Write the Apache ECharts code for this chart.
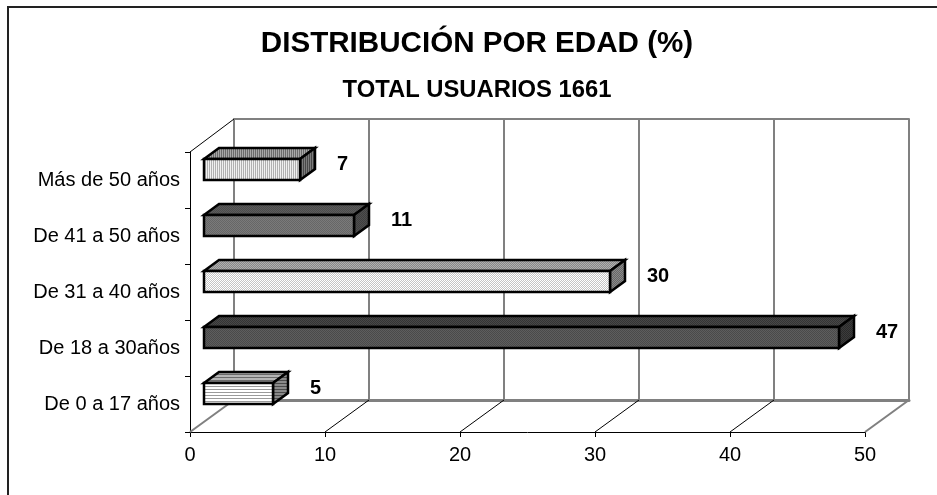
<!DOCTYPE html>
<html>
<head>
<meta charset="utf-8">
<script src="https://cdn.jsdelivr.net/npm/echarts@6/dist/echarts.min.js"></script>
<style>
  html, body { margin: 0; padding: 0; background: #fff; }
  #chart { width: 937px; height: 495px; }
</style>
</head>
<body>
<div id="chart"></div>
<script>
const categories = ['De 0 a 17 años', 'De 18 a 30años', 'De 31 a 40 años', 'De 41 a 50 años', 'Más de 50 años'];
// bars are a hair longer than the rounded labels say
const barValues = [5.1, 47, 30.1, 11.1, 7.1];
const labelValues = [5, 47, 30, 11, 7];
const xTicks = [0, 10, 20, 30, 40, 50];

// depth of the plot box and of each bar, in px
const boxDx = 44, boxDy = 32;
const barDx = 15, barDy = 11;
const barInset = 14, barHeight = 21;

const fontFamily = '"Liberation Sans", Arial, sans-serif';
const gray = '#808080';

// small repeating tile, rows of grey values
function tile(rows) {
  const c = document.createElement('canvas');
  c.height = rows.length;
  c.width = rows[0].length;
  const ctx = c.getContext('2d');
  rows.forEach((row, y) => row.forEach((v, x) => {
    ctx.fillStyle = v;
    ctx.fillRect(x, y, 1, 1);
  }));
  return { image: c, repeat: 'repeat' };
}
const vStripes = (a, b) => tile([[a, b]]);
const hStripes = (a, b) => tile([[a], [a], [b]]);
const dither = (a, b) => tile([[a, b], [b, a]]);

// front, top, side for each category
const barFills = [
  [hStripes('#ffffff', '#9a9a9a'), hStripes('#b5b5b5', '#6a6a6a'), hStripes('#8a8a8a', '#4a4a4a')],
  [dither('#4a4a4a', '#5e5e5e'), dither('#343434', '#484848'), dither('#2a2a2a', '#3c3c3c')],
  [dither('#ffffff', '#c4c4c4'), dither('#b0b0b0', '#888888'), dither('#8a8a8a', '#666666')],
  [dither('#666666', '#7a7a7a'), dither('#4c4c4c', '#5c5c5c'), dither('#3e3e3e', '#4e4e4e')],
  [vStripes('#f0f0f0', '#b0b0b0'), vStripes('#a8a8a8', '#6c6c6c'), vStripes('#7c7c7c', '#484848')]
];

function renderFloor(params, api) {
  const v = api.value(0);
  const x = api.coord([v, 0])[0];
  const y = params.coordSys.y + params.coordSys.height;
  const edge = v === 0 || v === 50;
  return {
    type: 'line',
    shape: { x1: x, y1: y, x2: x + boxDx, y2: y - boxDy },
    style: { stroke: edge ? gray : '#000', lineWidth: edge ? 2 : 1 },
    silent: true
  };
}

function renderCorner(params, api) {
  const x = params.coordSys.x;
  const y = params.coordSys.y;
  return {
    type: 'line',
    shape: { x1: x, y1: y, x2: x + boxDx, y2: y - boxDy - 1 },
    style: { stroke: '#000', lineWidth: 1 },
    silent: true
  };
}

function renderBar(params, api) {
  const i = params.dataIndex;
  const start = api.coord([0, i]);
  const end = api.coord([api.value(0), i]);
  const x0 = Math.round(start[0]) + barInset;
  const x1 = Math.round(end[0]) + barInset;
  const y1 = Math.round(start[1]);
  const y0 = y1 - barHeight;
  const line = { stroke: '#000', lineWidth: 2.5, lineJoin: 'miter' };
  const f = barFills[i];
  return {
    type: 'group',
    children: [
      {
        type: 'polygon',
        shape: { points: [[x0, y0], [x0 + barDx, y0 - barDy], [x1 + barDx, y0 - barDy], [x1, y0]] },
        style: Object.assign({ fill: f[1] }, line)
      },
      {
        type: 'polygon',
        shape: { points: [[x1, y0], [x1 + barDx, y0 - barDy], [x1 + barDx, y1 - barDy], [x1, y1]] },
        style: Object.assign({ fill: f[2] }, line)
      },
      {
        type: 'rect',
        shape: { x: x0, y: y0, width: x1 - x0, height: barHeight },
        style: Object.assign({ fill: f[0] }, line)
      },
      {
        type: 'text',
        x: x1 + 37,
        y: y0 + 5,
        style: {
          text: String(labelValues[i]),
          font: 'bold 20px ' + fontFamily,
          fill: '#000',
          verticalAlign: 'middle'
        }
      }
    ]
  };
}

const option = {
  animation: false,
  backgroundColor: '#fff',
  title: [
    {
      text: 'DISTRIBUCIÓN POR EDAD (%)',
      left: 472, top: 24, textAlign: 'center',
      textStyle: { fontFamily: fontFamily, fontWeight: 'bold', fontSize: 29.6, color: '#000' }
    },
    {
      text: 'TOTAL USUARIOS 1661',
      left: 472, top: 73, textAlign: 'center',
      textStyle: { fontFamily: fontFamily, fontWeight: 'bold', fontSize: 23.8, color: '#000' }
    }
  ],
  graphic: [
    { type: 'line', silent: true, shape: { x1: 8, y1: 7, x2: 8, y2: 495 }, style: { stroke: '#222', lineWidth: 2 } },
    { type: 'line', silent: true, shape: { x1: 7, y1: 7, x2: 937, y2: 7 }, style: { stroke: '#222', lineWidth: 2 } }
  ],
  grid: [
    { left: 190, top: 152, width: 675, height: 280, show: false },
    { left: 234, top: 119, width: 675, height: 281, show: false }
  ],
  xAxis: [
    {
      gridIndex: 0, type: 'value', min: 0, max: 50, interval: 10,
      axisLine: { show: true, onZero: false, lineStyle: { color: '#000', width: 1 } },
      axisTick: { show: true, length: 5, lineStyle: { color: '#000' } },
      splitLine: { show: false },
      axisLabel: { color: '#000', fontSize: 20, margin: 13, fontFamily: fontFamily }
    },
    {
      gridIndex: 1, type: 'value', min: 0, max: 50, interval: 10, position: 'top',
      axisLine: { show: true, onZero: false, lineStyle: { color: gray, width: 2 } },
      axisTick: { show: false },
      axisLabel: { show: false },
      splitLine: { show: true, lineStyle: { color: gray, width: 2 } }
    },
    {
      gridIndex: 1, type: 'value', min: 0, max: 50, interval: 10, position: 'bottom',
      axisLine: { show: true, onZero: false, lineStyle: { color: gray, width: 3 } },
      axisTick: { show: false },
      axisLabel: { show: false },
      splitLine: { show: false }
    }
  ],
  yAxis: [
    {
      gridIndex: 0, type: 'category', data: categories,
      axisLine: { show: true, lineStyle: { color: '#000', width: 1 } },
      axisTick: { show: true, length: 5, alignWithLabel: false, lineStyle: { color: '#000' } },
      axisLabel: { color: '#000', fontSize: 20, margin: 10, fontFamily: fontFamily }
    },
    {
      gridIndex: 1, type: 'category', data: categories,
      axisLine: { show: false },
      axisTick: { show: false },
      axisLabel: { show: false }
    }
  ],
  series: [
    {
      type: 'custom', xAxisIndex: 0, yAxisIndex: 0, silent: true, z: 2,
      renderItem: renderFloor,
      data: xTicks.map(v => [v]),
      encode: { x: 0 }
    },
    {
      type: 'custom', xAxisIndex: 0, yAxisIndex: 0, silent: true, z: 2,
      renderItem: renderCorner,
      data: [[0]],
      encode: { x: 0 }
    },
    {
      type: 'custom', xAxisIndex: 0, yAxisIndex: 0, silent: true, z: 5,
      renderItem: renderBar,
      data: barValues.map(v => [v]),
      encode: { x: 0 }
    }
  ]
};

const chart = echarts.init(document.getElementById('chart'));
chart.setOption(option);
</script>
</body>
</html>
